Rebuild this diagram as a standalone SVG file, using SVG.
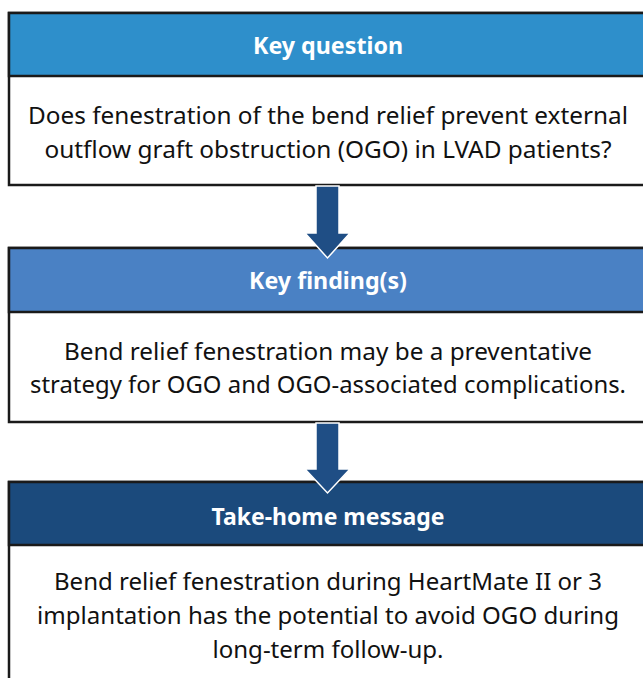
<svg xmlns="http://www.w3.org/2000/svg" width="643" height="678" viewBox="0 0 643 678">
<style>
.box{fill:#ffffff;stroke:#1a1a1a;stroke-width:2.5}
.hdr{stroke:#1a1a1a;stroke-width:2.5}
.ttl{font-family:"Noto Sans","Open Sans",sans-serif;font-weight:bold;font-size:23px;fill:#ffffff;text-anchor:middle}
.txt{font-family:"Noto Sans","Open Sans",sans-serif;font-size:24px;fill:#111111;text-anchor:middle}
.arr{fill:#1f4e85;stroke:#ffffff;stroke-width:1.5;stroke-linejoin:miter}
</style>
<rect width="643" height="678" fill="#ffffff"/>
<g id="node-key-question">
<rect class="box" x="9" y="13" width="640" height="172"/>
<rect class="hdr" x="9" y="13" width="640" height="63" fill="#2e8fcb"/>
<text class="ttl" x="328" y="54" textLength="150" lengthAdjust="spacingAndGlyphs">Key question</text>
<text class="txt" x="328" y="124" textLength="600" lengthAdjust="spacingAndGlyphs">Does fenestration of the bend relief prevent external</text>
<text class="txt" x="328" y="158" textLength="567" lengthAdjust="spacingAndGlyphs">outflow graft obstruction (OGO) in LVAD patients?</text>
</g>
<g id="node-key-findings">
<rect class="box" x="9" y="248" width="640" height="174"/>
<rect class="hdr" x="9" y="248" width="640" height="64" fill="#4a81c4"/>
<text class="ttl" x="328" y="289" textLength="158" lengthAdjust="spacingAndGlyphs">Key finding(s)</text>
<text class="txt" x="328" y="360" textLength="528" lengthAdjust="spacingAndGlyphs">Bend relief fenestration may be a preventative</text>
<text class="txt" x="328" y="393" textLength="596" lengthAdjust="spacingAndGlyphs">strategy for OGO and OGO-associated complications.</text>
</g>
<g id="node-take-home">
<rect class="box" x="9" y="482" width="640" height="210"/>
<rect class="hdr" x="9" y="482" width="640" height="63" fill="#1b4a7c" stroke-width="3"/>
<text class="ttl" x="328" y="525" textLength="233" lengthAdjust="spacingAndGlyphs">Take-home message</text>
<text class="txt" x="328" y="590" textLength="548" lengthAdjust="spacingAndGlyphs">Bend relief fenestration during HeartMate II or 3</text>
<text class="txt" x="328" y="624" textLength="582" lengthAdjust="spacingAndGlyphs">implantation has the potential to avoid OGO during</text>
<text class="txt" x="328" y="658" textLength="231" lengthAdjust="spacingAndGlyphs">long-term follow-up.</text>
</g>
<g id="connectors">
<path class="arr" d="M316,186 L339,186 L339,233 L350,233 L327.5,258 L305,233 L316,233 Z"/>
<path class="arr" d="M316,423 L339,423 L339,469 L350,469 L327.5,493 L305,469 L316,469 Z"/>
</g>
</svg>
